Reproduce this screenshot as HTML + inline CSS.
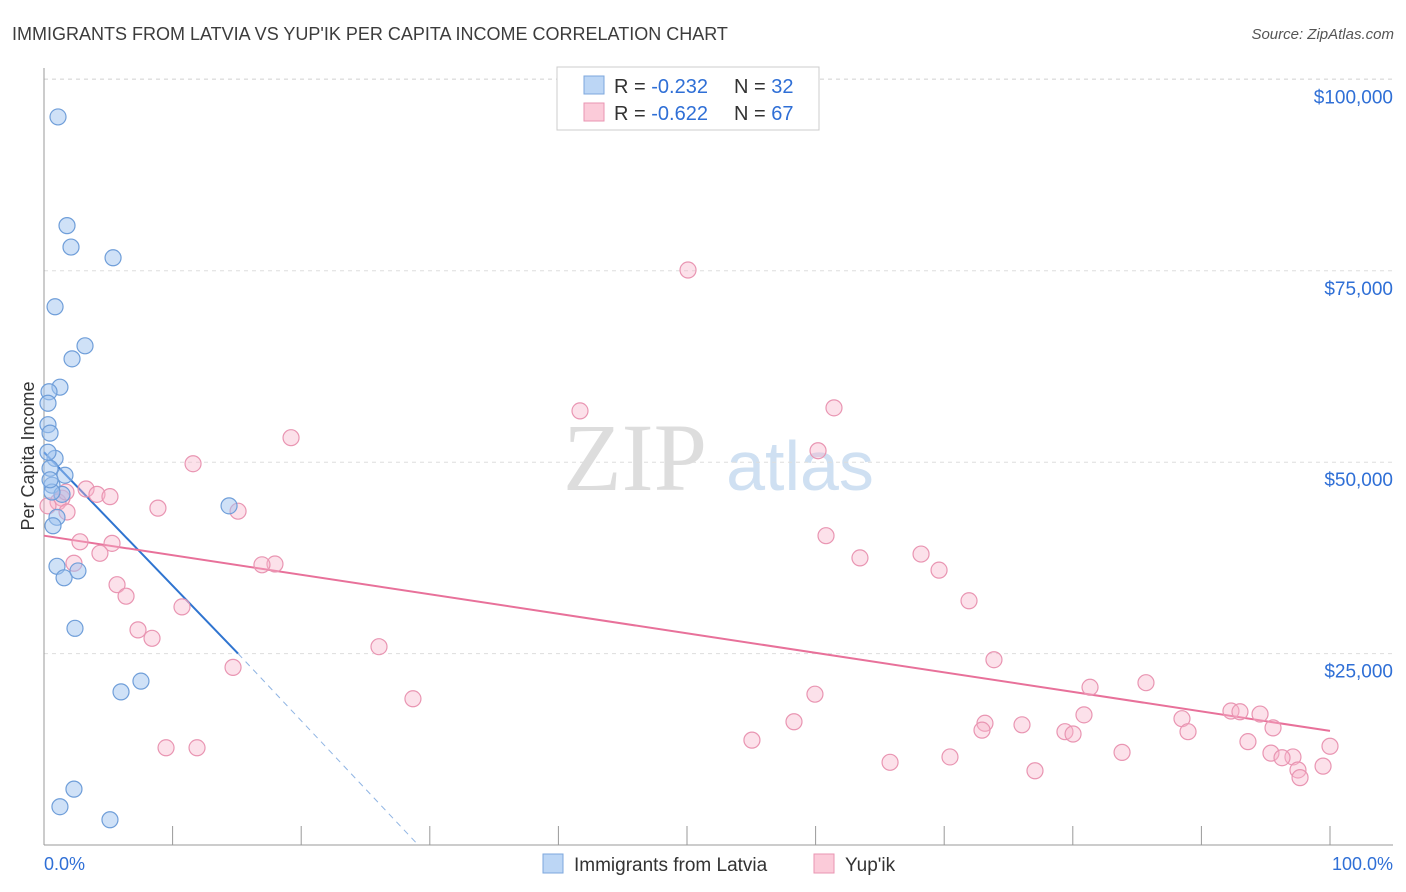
<!DOCTYPE html>
<html><head><meta charset="utf-8"><style>
body{margin:0;background:#fff;font-family:"Liberation Sans",sans-serif}
#wrap{position:relative;width:1406px;height:892px;overflow:hidden}
</style></head><body><div id="wrap">
<svg id="svg" width="1406" height="892" xmlns="http://www.w3.org/2000/svg">
<text x="12" y="40" font-size="18" fill="#3c3c3c">IMMIGRANTS FROM LATVIA VS YUP'IK PER CAPITA INCOME CORRELATION CHART</text>
<text x="1394" y="39" font-size="15" fill="#555" font-style="italic" text-anchor="end">Source: ZipAtlas.com</text>
<text transform="translate(34,456) rotate(-90)" font-size="18" fill="#333" text-anchor="middle">Per Capita Income</text>
<g><text x="635" y="490" font-size="96" fill="#ddd" font-family="Liberation Serif" text-anchor="middle">ZIP</text><text x="800" y="490" font-size="70" fill="#cfe0f2" text-anchor="middle">atlas</text></g>
<g id="grid"></g><g id="axes"></g><g id="lines"></g><g id="pts"></g>
<g>
<rect x="557" y="67" width="262" height="63" fill="#fff" stroke="#ccc"/>
<rect x="584" y="76" width="20" height="18" fill="#bcd6f5" stroke="#7da7dd"/>
<rect x="584" y="103" width="20" height="18" fill="#fbcbd9" stroke="#e995b2"/>
<text x="614" y="93" font-size="20" fill="#333">R = <tspan fill="#2f6fd6">-0.232</tspan><tspan x="734">N = </tspan><tspan fill="#2f6fd6">32</tspan></text>
<text x="614" y="120" font-size="20" fill="#333">R = <tspan fill="#2f6fd6">-0.622</tspan><tspan x="734">N = </tspan><tspan fill="#2f6fd6">67</tspan></text>
</g>
<g>
<rect x="543" y="854" width="20" height="19" fill="#bcd6f5" stroke="#7da7dd"/>
<text x="574" y="871" font-size="19" fill="#333">Immigrants from Latvia</text>
<rect x="814" y="854" width="20" height="19" fill="#fbcbd9" stroke="#e995b2"/>
<text x="845" y="871" font-size="19" fill="#333">Yup'ik</text>
</g>
<text x="44" y="870" font-size="18" fill="#2f6fd6">0.0%</text>
<text x="1393" y="870" font-size="18" fill="#2f6fd6" text-anchor="end">100.0%</text>
</svg>
<script>
const yTicks=[25000,50000,75000,100000];
const yTickLabels=["$25,000","$50,000","$75,000","$100,000"];
const latviaX=[1.09,1.79,2.10,5.37,0.86,3.19,2.18,1.24,0.39,0.31,0.31,0.47,0.86,0.47,1.63,0.62,1.40,0.62,1.01,0.70,14.39,1.01,1.56,2.64,2.41,7.54,5.99,2.33,1.24,5.13,0.31,0.47];
const latviaY=[95.1,80.9,78.1,76.7,70.3,65.2,63.5,59.8,59.2,57.7,54.9,53.8,50.5,49.2,48.3,47.0,45.8,46.1,42.8,41.7,44.3,36.4,34.9,35.8,28.3,21.4,20.0,7.3,5.0,3.3,51.3,47.7];
const yupikX=[50.08,41.68,61.43,19.21,60.19,11.59,3.27,4.12,5.13,1.40,1.09,8.86,15.09,1.79,60.81,2.80,5.29,4.35,63.45,68.20,69.60,17.96,16.95,2.33,5.68,6.38,71.93,10.73,7.31,8.40,26.05,73.87,14.70,81.34,85.69,59.95,28.69,80.87,92.30,93.00,94.56,88.49,73.17,76.05,58.32,95.57,72.94,79.39,80.02,88.96,55.05,93.62,9.49,11.90,83.83,95.41,97.12,96.27,100.0,70.45,65.79,97.51,99.46,77.06,97.67,0.31,1.71];
const yupikY=[75.1,56.7,57.1,53.2,51.5,49.8,46.5,45.8,45.5,45.3,44.8,44.0,43.6,43.5,40.4,39.6,39.4,38.1,37.5,38.0,35.9,36.7,36.6,36.8,34.0,32.5,31.9,31.1,28.1,27.0,25.9,24.2,23.2,20.6,21.2,19.7,19.1,17.0,17.5,17.4,17.1,16.5,15.9,15.7,16.1,15.3,15.0,14.8,14.5,14.8,13.7,13.5,12.7,12.7,12.1,12.0,11.5,11.4,12.9,11.5,10.8,9.8,10.3,9.7,8.8,44.3,46.1];
const latviaTrend=[[0,51.3],[15.09,25.0]];
const latviaTrendExt=[[15.09,25.0],[29.1,0]];
const yupikTrend=[[0,40.4],[100,14.9]];
const NS="http://www.w3.org/2000/svg";
const sx=v=>44+v*12.86;
const sy=v=>845-v*7.656; // v in thousands
function mk(t,a,p){const e=document.createElementNS(NS,t);for(const k in a)e.setAttribute(k,a[k]);p.appendChild(e);return e;}
const grid=document.getElementById('grid'),axes=document.getElementById('axes');
yTicks.forEach((t,i)=>{const y=sy(t/1000);
const l=mk('line',{x1:44,x2:1393,y1:y,y2:y,stroke:'#ddd','stroke-dasharray':'4,4'},grid);


const tx=mk('text',{x:1393,y:y+24,'font-size':19,fill:'#2f6fd6','text-anchor':'end'},grid);
tx.textContent=yTickLabels[i];

});
const tg=mk('line',{x1:44,x2:1393,y1:79,y2:79,stroke:'#ddd','stroke-dasharray':'4,4'},grid);
const ya=mk('line',{x1:44,x2:44,y1:68,y2:845,stroke:'#999'},axes);


const xa=mk('line',{x1:44,x2:1393,y1:845,y2:845,stroke:'#999'},axes);


for(let i=1;i<=10;i++){const x=sx(i*10);
const t=mk('line',{x1:x,x2:x,y1:826,y2:845,stroke:'#999'},axes);

}
const lines=document.getElementById('lines');
const l1=mk('line',{x1:sx(latviaTrend[0][0]),y1:sy(latviaTrend[0][1]),x2:sx(latviaTrend[1][0]),y2:sy(latviaTrend[1][1]),stroke:'#2f74d0','stroke-width':2},lines);


const l2=mk('line',{x1:sx(latviaTrendExt[0][0]),y1:sy(latviaTrendExt[0][1]),x2:sx(latviaTrendExt[1][0]),y2:sy(latviaTrendExt[1][1]),stroke:'#8fb4e3','stroke-width':1,'stroke-dasharray':'6,5'},lines);


const l3=mk('line',{x1:sx(yupikTrend[0][0]),y1:sy(yupikTrend[0][1]),x2:sx(yupikTrend[1][0]),y2:sy(yupikTrend[1][1]),stroke:'#e8719a','stroke-width':2},lines);


const pts=document.getElementById('pts');
yupikX.forEach((x,i)=>{const c=mk('circle',{cx:sx(x),cy:sy(yupikY[i]),r:8,fill:'rgba(248,180,202,0.4)',stroke:'#e995b2','stroke-width':1.2},pts);

});
latviaX.forEach((x,i)=>{const c=mk('circle',{cx:sx(x),cy:sy(latviaY[i]),r:8,fill:'rgba(160,196,240,0.5)',stroke:'#6f9ed9','stroke-width':1.2},pts);

});
</script></div></body></html>
